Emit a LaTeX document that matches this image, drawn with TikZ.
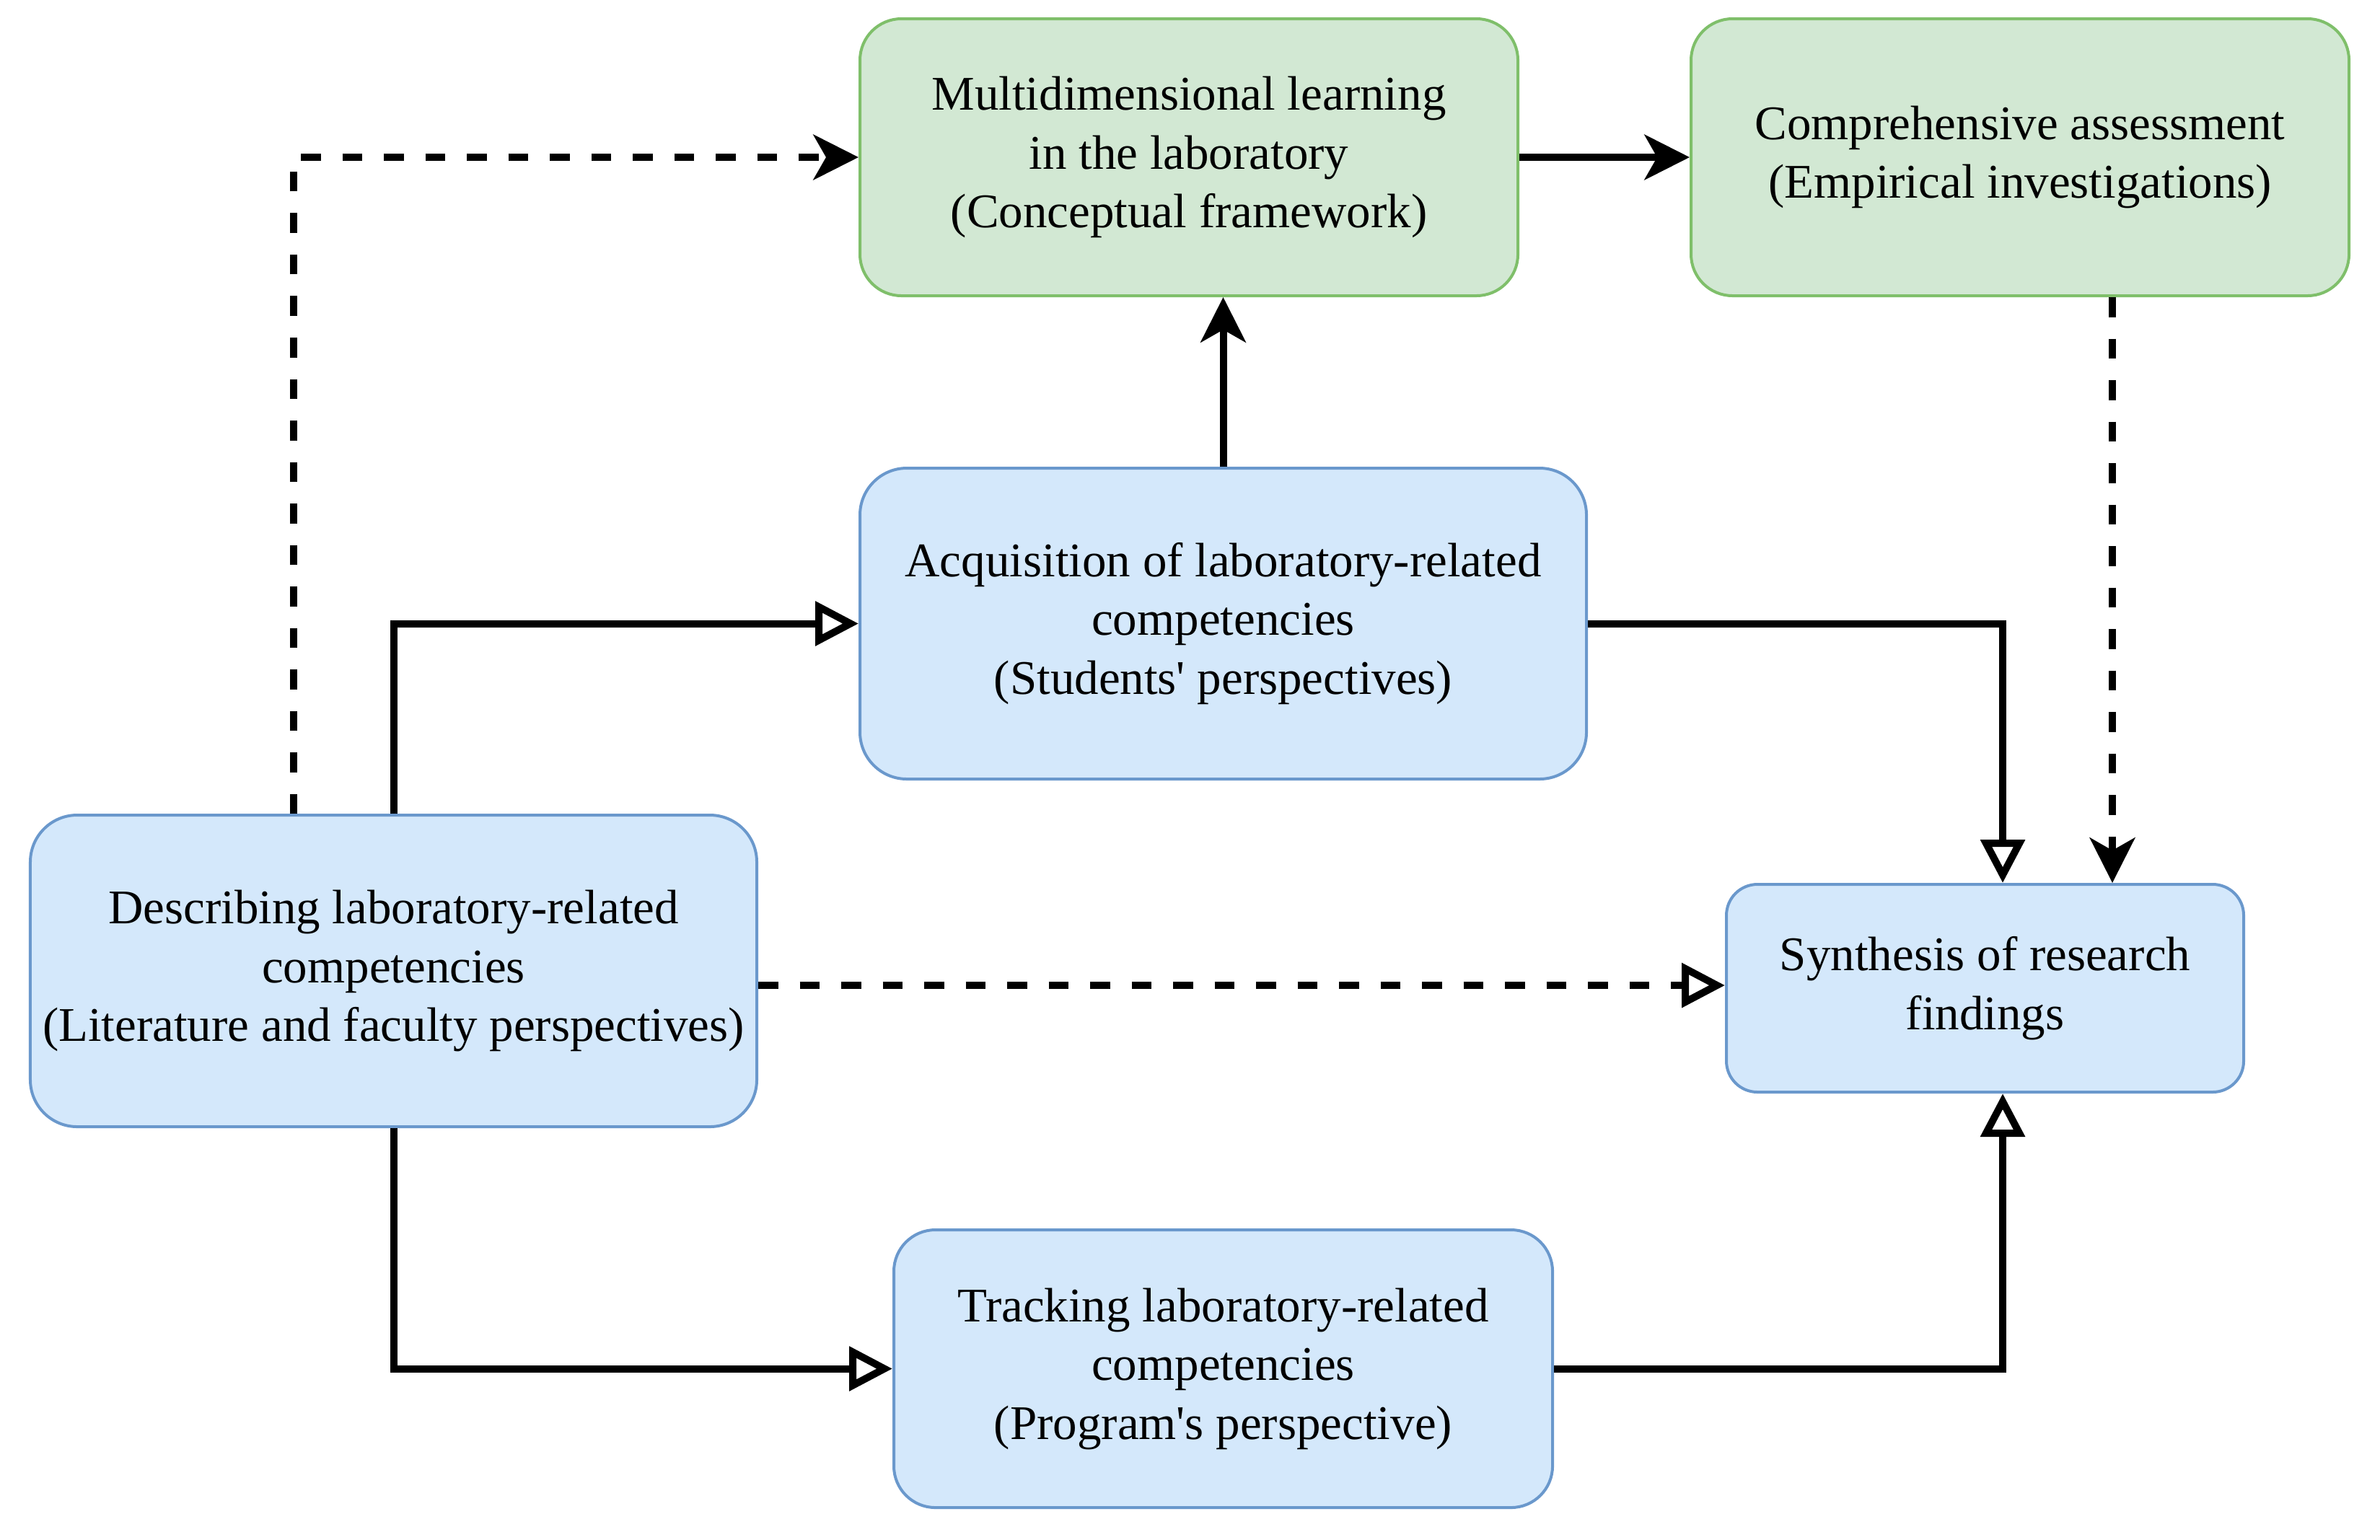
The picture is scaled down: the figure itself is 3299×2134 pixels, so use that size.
\documentclass[tikz,border=0pt]{standalone}
\usepackage{fontspec}
\setmainfont{Liberation Serif}
\usetikzlibrary{arrows.meta}
\definecolor{gfill}{HTML}{D2E8D3}
\definecolor{gline}{HTML}{7FBF6A}
\definecolor{bfill}{HTML}{D4E8FB}
\definecolor{bline}{HTML}{6A98CC}
\tikzset{
  boxbase/.style={rectangle, line width=0.8pt, align=center, inner sep=0pt,
    font=\fontsize{13.4}{16.3}\selectfont},
  greenbox/.style={boxbase, fill=gfill, draw=gline},
  bluebox/.style={boxbase, fill=bfill, draw=bline},
  conn/.style={line width=2pt, black},
  fillarrow/.style={conn, -{Stealth[length=12.5pt, width=12.5pt, inset=3.5pt]}},
  openarrow/.style={conn, -{Triangle[open, length=12pt, width=12pt]}},
  dashline/.style={dash pattern=on 5.5pt off 6pt},
}
\begin{document}
\begin{tikzpicture}[x=0.2pt, y=-0.2pt]
\useasboundingbox (0,0) rectangle (3299,2134);

\node[greenbox, minimum width=182.4pt, minimum height=76.8pt, rounded corners=11.5pt] (M) at (1648,218)
  {Multidimensional learning\\in the laboratory\\(Conceptual framework)};
\node[greenbox, minimum width=182.4pt, minimum height=76.8pt, rounded corners=11.5pt] (C) at (2800,218)
  {Comprehensive assessment\\(Empirical investigations)};
\node[bluebox, minimum width=201.4pt, minimum height=86.2pt, rounded corners=13pt] (A) at (1695.5,864.5)
  {Acquisition of laboratory-related\\competencies\\(Students\textquotesingle{} perspectives)};
\node[bluebox, minimum width=201.4pt, minimum height=86.4pt, rounded corners=13pt] (D) at (545.5,1346)
  {Describing laboratory-related\\competencies\\(Literature and faculty perspectives)};
\node[bluebox, minimum width=143.4pt, minimum height=57.6pt, rounded corners=8.6pt] (S) at (2751.5,1370)
  {Synthesis of research\\findings};
\node[bluebox, minimum width=182.6pt, minimum height=77pt, rounded corners=11.5pt] (T) at (1695.5,1897.5)
  {Tracking laboratory-related\\competencies\\(Program\textquotesingle{}s perspective)};

% dashed D -> M
\draw[fillarrow, dashline] ([xshift=-27.7pt]D.north) |- (M.west);
% D -> A
\draw[openarrow] (D.north) |- (A.west);
% A -> M
\draw[fillarrow] (A.north) -- (A.north |- M.south);
% M -> C
\draw[fillarrow] (M.east) -- (C.west);
% dashed C -> S
\draw[fillarrow, dashline] ([xshift=25.6pt]C.south) -- ([xshift=25.6pt]C.south |- S.north);
% A -> S
\draw[openarrow] (A.east) -| ([xshift=4.9pt]S.north);
% dashed D -> S
\draw[openarrow, dashline] ([yshift=-4pt]D.east) -- ([yshift=-4pt]D.east -| S.west);
% D -> T
\draw[openarrow] (D.south) |- (T.west);
% T -> S
\draw[openarrow] (T.east) -| ([xshift=4.9pt]S.south);
\end{tikzpicture}
\end{document}
